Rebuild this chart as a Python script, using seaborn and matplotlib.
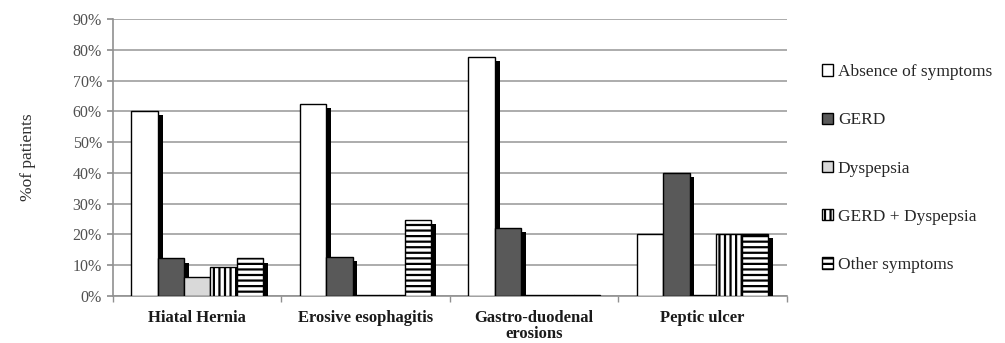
import numpy as np
import pandas as pd
import seaborn as sns
import matplotlib
matplotlib.use("Agg")
import matplotlib.pyplot as plt
import matplotlib.patheffects as pe
from matplotlib.patches import Patch
from matplotlib.ticker import FixedLocator, PercentFormatter

categories = ["Hiatal Hernia", "Erosive esophagitis", "Gastro-duodenal\nerosions", "Peptic ulcer"]
series = ["Absence of symptoms", "GERD", "Dyspepsia", "GERD + Dyspepsia", "Other symptoms"]
absence = [60.2, 62.4, 77.6, 20.2]
gerd = [12.2, 12.7, 22.0, 40.0]
dyspepsia = [6.3, 0.3, 0.3, 0.3]
gerd_dysp = [9.3, 0.3, 0.3, 20.2]
other = [12.2, 24.8, 0.3, 20.2]
y_ticks = [0, 10, 20, 30, 40, 50, 60, 70, 80, 90]

values = [absence, gerd, dyspepsia, gerd_dysp, other]
rows = []
for s, vals in zip(series, values):
    for c, v in zip(categories, vals):
        rows.append({"category": c, "series": s, "value": v})
df = pd.DataFrame(rows)

sns.set_theme(style="white")
plt.rcParams["font.family"] = ["Liberation Serif", "DejaVu Serif"]
plt.rcParams["hatch.linewidth"] = 1.6
plt.rcParams["hatch.color"] = "black"

colors = {"Absence of symptoms": "white", "GERD": "#595959", "Dyspepsia": "#d9d9d9",
          "GERD + Dyspepsia": "white", "Other symptoms": "white"}
hatches = {"Absence of symptoms": "", "GERD": "", "Dyspepsia": "",
           "GERD + Dyspepsia": "|||", "Other symptoms": "---"}

fig = plt.figure(figsize=(10.05, 3.43), dpi=100)
ax = fig.add_axes([0.1124, 0.137, 0.783 - 0.1124, 0.9446 - 0.137])

sns.barplot(data=df, x="category", y="value", hue="series", order=categories,
            hue_order=series, palette=colors, width=0.78, gap=0, edgecolor="black",
            linewidth=1.0, saturation=1, legend=False, ax=ax, zorder=3)

shadow = [pe.SimplePatchShadow(offset=(3.5, -3), shadow_rgbFace="black", alpha=1.0), pe.Normal()]
for cont, s in zip(ax.containers, series):
    for bar in cont:
        bar.set_hatch(hatches[s])
        bar.set_path_effects(shadow)

ax.set_ylim(0, 90)
ax.set_xlim(-0.5, 3.5)
ax.yaxis.set_major_locator(FixedLocator(y_ticks))
ax.yaxis.set_major_formatter(PercentFormatter(decimals=0))
ax.grid(axis="y", color="#a6a6a6", linewidth=1.3, zorder=0)
ax.set_axisbelow(True)
for sp in ["top", "right"]:
    ax.spines[sp].set_visible(False)
for sp in ["left", "bottom"]:
    ax.spines[sp].set_color("#909090")
    ax.spines[sp].set_linewidth(1.2)

ax.tick_params(axis="y", which="major", left=True, length=4, color="#909090",
               labelsize=11.5, labelcolor="#505050", pad=4)
ax.tick_params(axis="x", which="major", bottom=False, labelsize=12, pad=4)
ax.set_xticks(range(len(categories)))
ax.set_xticklabels(categories, fontweight="bold", color="#1a1a1a", linespacing=1.0)
ax.set_xticks([-0.5, 0.5, 1.5, 2.5, 3.5], minor=True)
ax.tick_params(axis="x", which="minor", bottom=True, length=4, color="#909090")
ax.set_xlabel("")
ax.set_ylabel("%of patients", fontsize=12.5, color="#303030", labelpad=26)

handles = [Patch(facecolor=colors[s], edgecolor="black", hatch=hatches[s], linewidth=1.0) for s in series]
ax.legend(handles, series, loc="center left", bbox_to_anchor=(1.042, 0.46), frameon=False,
          fontsize=12.5, handlelength=0.65, handleheight=0.65, handletextpad=0.25,
          labelspacing=1.85, borderaxespad=0.0)

fig.savefig("out.png", dpi=100)
